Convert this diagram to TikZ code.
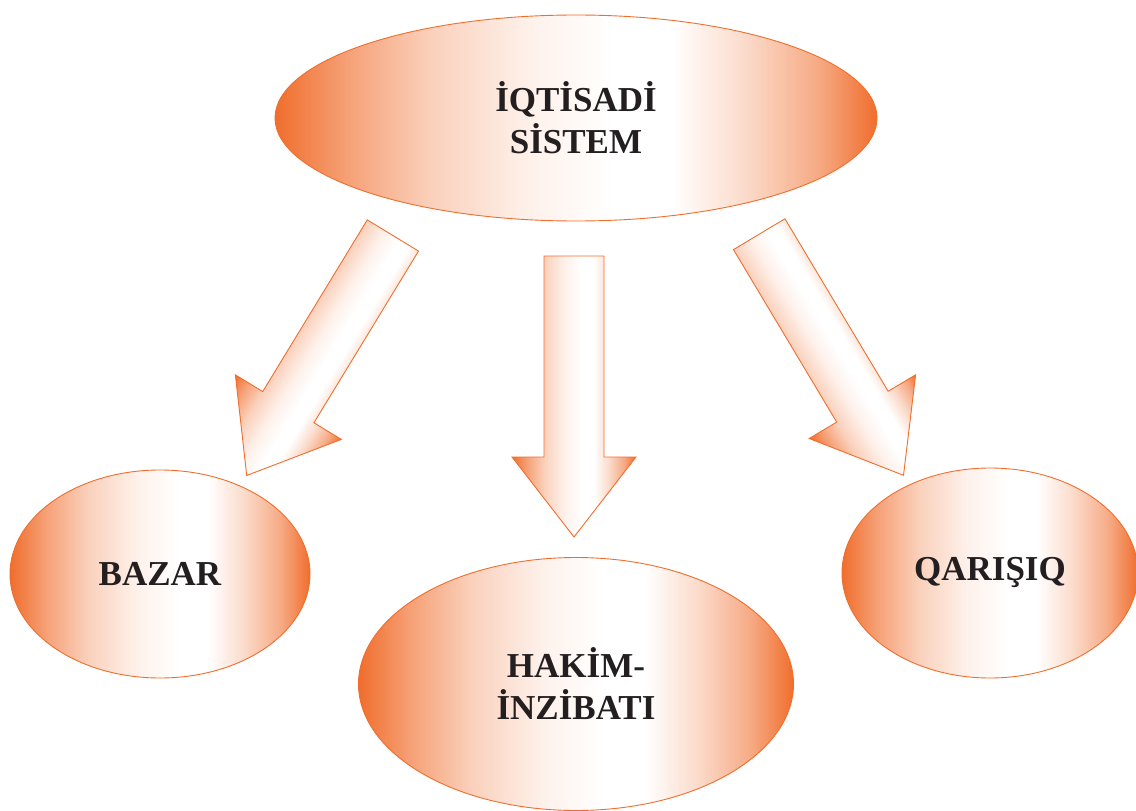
\documentclass[tikz,border=0pt]{standalone}
\usepackage{fontspec}
\setmainfont{Liberation Serif}
\usetikzlibrary{shapes.geometric}

\definecolor{rim}{RGB}{240,110,45}
\definecolor{ink}{RGB}{35,31,32}

% orange at both sides, white a little right of the middle
\pgfdeclarehorizontalshading{peach}{100bp}{%
  color(0bp)=(rim); color(25bp)=(rim); color(31bp)=(rim!65);
  color(38bp)=(rim!32); color(46bp)=(rim!10); color(53bp)=(white);
  color(58bp)=(white); color(64bp)=(rim!25); color(70bp)=(rim!58);
  color(75bp)=(rim); color(100bp)=(rim)}

\tikzset{
  oval/.style={ellipse, draw=rim, line width=0.9pt, shading=peach,
    inner sep=0pt, align=center, text=ink,
    font=\bfseries\fontsize{35}{42}\selectfont},
  blockarrow/.pic={
    \shade[draw=rim, line width=0.9pt, shading=peach, line join=miter]
      (-30,0) -- (30,0) -- (30,201) -- (62,201) -- (0,281)
      -- (-62,201) -- (-30,201) -- cycle;
  }
}

\begin{document}
\begin{tikzpicture}[x=1pt, y=-1pt]
  \useasboundingbox (0,0) rectangle (1136,811);

  % the three block arrows
  \begin{scope}[transform canvas={shift={(392.9,235.5)}, rotate=-31.35}]
    \pic {blockarrow};
  \end{scope}
  \begin{scope}[transform canvas={shift={(574,256)}}]
    \pic {blockarrow};
  \end{scope}
  \begin{scope}[transform canvas={shift={(759.2,234.2)}, rotate=30.9}]
    \pic {blockarrow};
  \end{scope}

  % the system and its three kinds
  \node[oval, minimum width=602pt, minimum height=206pt] (sys) at (576,118)
    {İQTİSADİ\\SİSTEM};
  \node[oval, minimum width=300pt, minimum height=208pt] (bazar) at (160,574)
    {BAZAR};
  \node[oval, minimum width=435pt, minimum height=253pt] (hakim) at (576,684)
    {HAKİM-\\İNZİBATI};
  \node[oval, minimum width=296pt, minimum height=210pt] (qar) at (990,573)
    {QARIŞIQ};
\end{tikzpicture}
\end{document}
